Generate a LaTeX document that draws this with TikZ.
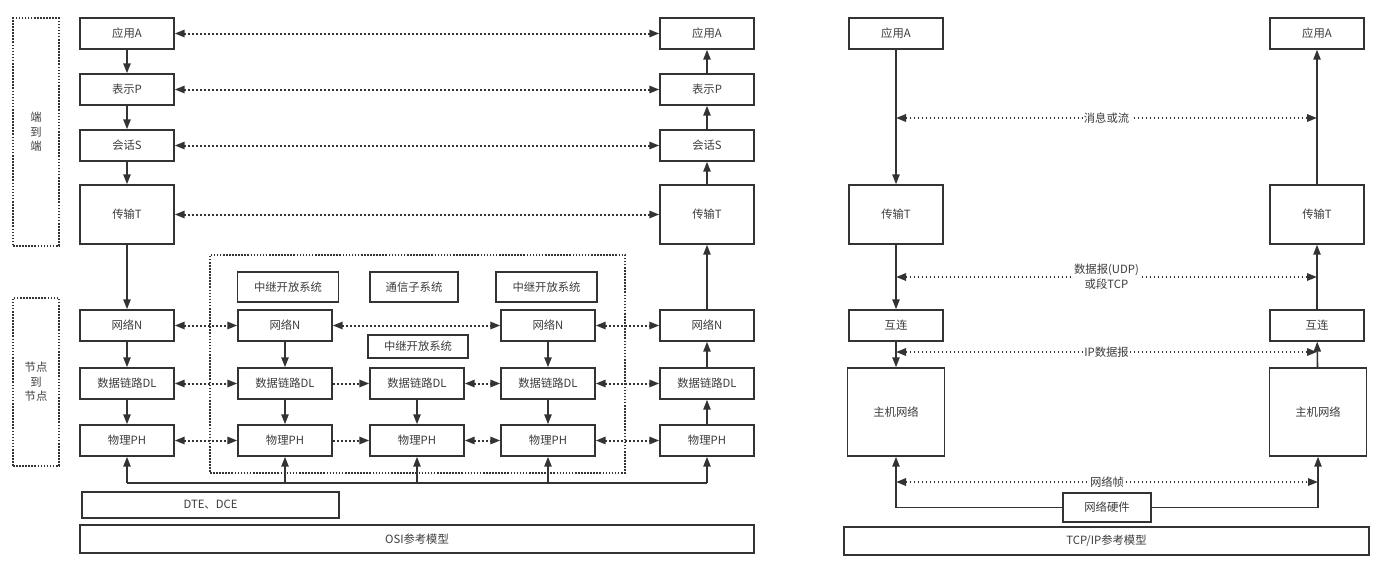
\documentclass[tikz,border=0pt]{standalone}
\usepackage{fontspec}
\setmainfont{Noto Sans CJK SC}
\usepackage{tikz}
\usetikzlibrary{arrows.meta,positioning}
\definecolor{LineGray}{RGB}{51,51,51}
\definecolor{TextGray}{RGB}{60,60,60}

\begin{document}
\begin{tikzpicture}[x=0.75pt, y=-0.75pt,
    font=\fontsize{8.5}{11}\selectfont, text=TextGray,
    box/.style={draw=LineGray, line width=1.1pt, minimum width=70.5pt, minimum height=23.25pt, inner sep=0pt},
    tallbox/.style={box, minimum height=44.25pt},
    relbox/.style={box, minimum width=76pt, minimum height=22.5pt},
    frame/.style={draw=LineGray, line width=1.2pt, dash pattern=on 1.2pt off 1.1pt, align=center, inner sep=0pt},
    arr/.style={draw=LineGray, line width=1.2pt, -{Triangle[length=7.5pt, width=5.5pt]}},
    bus/.style={draw=LineGray, line width=1.2pt},
    darr/.style={draw=LineGray, line width=1.5pt, dash pattern=on 1.4pt off 1.6pt, {Triangle[length=7.5pt, width=5.5pt]}-{Triangle[length=7.5pt, width=5.5pt]}},
    sarr/.style={darr, -{Triangle[length=7.5pt, width=5.5pt]}},
    lbl/.style={fill=white, inner sep=1pt, align=center}]
  \useasboundingbox (0,0) rectangle (1391,569);

  \node[frame, minimum width=34.5pt, minimum height=171pt] (e2e) at (36,132) {端\\到\\端};
  \node[frame, minimum width=34.5pt, minimum height=126pt] (n2n) at (36,382) {节点\\到\\节点};
  \node[frame, minimum width=311.25pt, minimum height=163.5pt] (relay) at (417.5,364) {};

  \node[box] (appL) at (127,33.5) {应用A};
  \node[box] (preL) at (127,89.5) {表示P};
  \node[box] (sesL) at (127,145.5) {会话S};
  \node[tallbox] (traL) at (127,214.5) {传输T};
  \node[box] (netL) at (127,325.5) {网络N};
  \node[box] (dlL) at (127,383.5) {数据链路DL};
  \node[box] (phL) at (127,440.5) {物理PH};

  \node[box] (appR) at (707,33.5) {应用A};
  \node[box] (preR) at (707,89.5) {表示P};
  \node[box] (sesR) at (707,145.5) {会话S};
  \node[tallbox] (traR) at (707,214.5) {传输T};
  \node[box] (netR) at (707,325.5) {网络N};
  \node[box] (dlR) at (707,383.5) {数据链路DL};
  \node[box] (phR) at (707,440.5) {物理PH};

  \node[relbox] (relA) at (288,287) {中继开放系统};
  \node[relbox, minimum width=66pt] (comm) at (414,287) {通信子系统};
  \node[relbox] (relB) at (546.5,287) {中继开放系统};
  \node[relbox, minimum width=75pt, minimum height=17.25pt] (relM) at (418,346.5) {中继开放系统};

  \node[box] (netA) at (285,325.5) {网络N};
  \node[box] (dlA) at (285,383.5) {数据链路DL};
  \node[box] (phA) at (285,440.5) {物理PH};
  \node[box] (dlM) at (417,383.5) {数据链路DL};
  \node[box] (phM) at (417,440.5) {物理PH};
  \node[box] (netB) at (548,325.5) {网络N};
  \node[box] (dlB) at (548,383.5) {数据链路DL};
  \node[box] (phB) at (548,440.5) {物理PH};

  \node[box, minimum width=192.75pt, minimum height=19.5pt] (dte) at (210.5,505) {DTE、DCE};
  \node[box, minimum width=505.5pt, minimum height=21pt] (osi) at (417,539) {OSI参考模型};

  \foreach \a/\b in {appL/preL, preL/sesL, sesL/traL, traL/netL, netL/dlL, dlL/phL,
                     phR/dlR, dlR/netR, netR/traR, traR/sesR, sesR/preR, preR/appR,
                     netA/dlA, dlA/phA, netB/dlB, dlB/phB, dlM/phM}
    \draw[arr] (\a) -- (\b);
  \foreach \a/\b in {appL/appR, preL/preR, sesL/sesR, traL/traR,
                     netL/netA, netA/netB, netB/netR,
                     dlL/dlA, dlM/dlB, dlB/dlR, phL/phA, phM/phB, phB/phR}
    \draw[darr] (\a) -- (\b);
  \draw[sarr] (dlA) -- (dlM);
  \draw[sarr] (phA) -- (phM);

  \coordinate (osibus) at (0,483);
  \draw[bus] (phL |- osibus) -- (phR |- osibus);
  \foreach \n in {phL, phA, phM, phB, phR}
    \draw[arr] (\n |- osibus) -- (\n);

  \node[box] (appL2) at (896,33.5) {应用A};
  \node[tallbox] (traL2) at (896,214.5) {传输T};
  \node[box] (ictL) at (896,325.5) {互连};
  \node[box, minimum width=72.75pt, minimum height=66pt] (hostL) at (896,412) {主机网络};
  \node[box] (appR2) at (1317,33.5) {应用A};
  \node[tallbox] (traR2) at (1317,214.5) {传输T};
  \node[box] (ictR) at (1317,325.5) {互连};
  \node[box, minimum width=72.75pt, minimum height=66pt] (hostR) at (1318,412) {主机网络};
  \node[box, minimum width=66pt, minimum height=21.75pt] (hw) at (1107,507.5) {网络硬件};
  \node[box, minimum width=393.75pt, minimum height=21pt] (tcp) at (1106.5,541) {TCP/IP参考模型};

  \foreach \a/\b in {appL2/traL2, traL2/ictL, ictL/hostL, hostR/ictR, ictR/traR2, traR2/appR2}
    \draw[arr] (\a) -- (\b);
  \draw[arr] (hw.west) -| (hostL.south);
  \draw[arr] (hw.east) -| (hostR.south);

  \coordinate (msgY) at (0,118);
  \coordinate (dgY) at (0,277);
  \coordinate (ipY) at (0,352);
  \coordinate (frY) at (0,482);
  \draw[darr] (appL2 |- msgY) -- node[lbl] {消息或流} (appR2 |- msgY);
  \draw[darr] (traL2 |- dgY) -- node[lbl] {数据报(UDP)\\或段TCP} (traR2 |- dgY);
  \draw[darr] (ictL |- ipY) -- node[lbl] {IP数据报} (ictR |- ipY);
  \draw[darr] (hostL |- frY) -- node[lbl] {网络帧} (hostR |- frY);
\end{tikzpicture}
\end{document}
